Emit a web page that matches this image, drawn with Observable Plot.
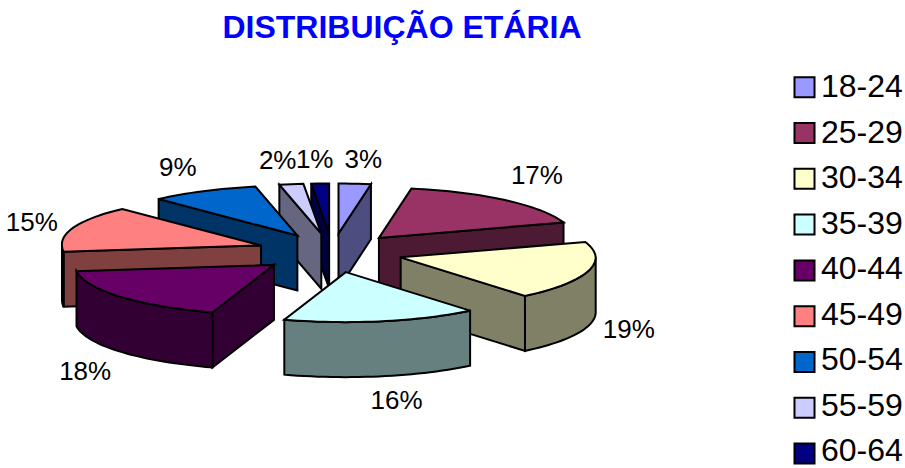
<!DOCTYPE html>
<html>
<head>
<meta charset="utf-8">
<script src="https://cdn.jsdelivr.net/npm/d3@7"></script>
<script src="https://cdn.jsdelivr.net/npm/@observablehq/plot@0.6"></script>
<style>html,body{margin:0;background:#fff}svg{display:block}</style>
</head>
<body>
<div id="chart"></div>
<script>
const chartTitle = "DISTRIBUIÇÃO ETÁRIA";
const ageGroups = ["18-24","25-29","30-34","35-39","40-44","45-49","50-54","55-59","60-64"];
const shares = [2.7,17.3,19,16,18,15,8.7,1.9,1.4];
const swatches = ["#9999FF","#993366","#FFFFCC","#CCFFFF","#660066","#FF8080","#0066CC","#CCCCFF","#000080"];
const paintOrder = ["60-64","18-24","25-29","55-59","50-54","45-49","30-34","40-44","35-39"];

// pie geometry (chart units equal pixels); the picture's perspective is slightly uneven
const W = 905, H = 468;
const pie = {cx:332, cy:251, rxRight:195, rxLeft:199, backRight:-3, backLeft:5, ry:50, explodeRight:71, explodeLeft:76, liftBack:18, liftFront:21, depth:55};
const rad = d => d * Math.PI / 180;
const total = d3.sum(shares);
const cumulative = d3.cumsum(shares);
const slices = ageGroups.map((name,i) => {
  const a0 = (i ? cumulative[i-1] : 0) / total * 360, a1 = cumulative[i] / total * 360, mid = (a0+a1)/2;
  const sm = Math.sin(rad(mid)), cm = Math.cos(rad(mid));
  const ax = pie.cx + (sm < 0 ? pie.explodeLeft : pie.explodeRight)*sm;
  const ay = pie.cy - (cm > 0 ? pie.liftBack : pie.liftFront)*cm;
  const at = a => {
    const sa = Math.sin(rad(a)), ca = Math.cos(rad(a)), back = Math.max(0,ca);
    const rx = sa < 0 ? pie.rxLeft + pie.backLeft*back : pie.rxRight + pie.backRight*back;
    return [ax + rx*sa, ay - pie.ry*ca];
  };
  return {name,i,a0,a1,mid,ax,ay,at,color:swatches[i]};
});
const sampled = (a,b) => { const n = Math.max(1,Math.ceil((b-a)/2)); return d3.range(n+1).map(k => a+(b-a)*k/n); };
const darken = c => { const r = d3.rgb(c); return d3.rgb(r.r*.5,r.g*.5,r.b*.5).formatHex(); };

const rows = [];
const addPoly = (id,tone,pts) => pts.forEach(p => rows.push({id,tone,x:p[0],y:p[1]}));
for (const name of paintOrder) {
  const s = slices[ageGroups.indexOf(name)];
  const side = darken(s.color), d = pie.depth, A = [s.ax,s.ay];
  const wall = (p) => [A,p,[p[0],p[1]+d],[A[0],A[1]+d]];
  if (Math.sin(rad(s.a0)) < 0) addPoly(name+" start",side,wall(s.at(s.a0)));
  if (Math.sin(rad(s.a1)) > 0) addPoly(name+" end",side,wall(s.at(s.a1)));
  const lo = Math.max(s.a0,90), hi = Math.min(s.a1,270);
  if (hi > lo) {
    const arc = sampled(lo,hi).map(s.at);
    addPoly(name+" outer",side,[...arc,...arc.slice().reverse().map(p=>[p[0],p[1]+d])]);
  }
  addPoly(name+" top",s.color,[A,...sampled(s.a0,s.a1).map(s.at)]);
}

// percentage labels follow each slice's rim, then adjacent ones are pushed apart
const labels = slices.map(s => {
  const p = s.at(s.mid), c = Math.cos(rad(s.mid)), sn = Math.sin(rad(s.mid));
  const front = s.mid>90 && s.mid<270 ? pie.depth : 0;
  return {text:d3.format(".0f")(shares[s.i])+"%", x:p[0]+42*Math.sign(sn)*Math.pow(Math.abs(sn),.65),
          y:p[1]+front-24*Math.sign(c)*Math.min(1,c*c/.5)};
});
const labelGap = 37;
for (let i = labels.length-2; i >= 6; i--)
  if (labels[i+1].x - labels[i].x < labelGap) labels[i].x = labels[i+1].x - labelGap;

const legendRows = ageGroups.map((name,i)=>({name,color:swatches[i],y:86.7+45.8*i,textY:86.7+45.5*i}));

const plot = Plot.plot({
  width:W, height:H, margin:0,
  x:{domain:[0,W],range:[0,W],axis:null},
  y:{domain:[0,H],range:[0,H],axis:null},
  color:{type:"identity"},
  style:{fontFamily:"'Liberation Sans',Arial,sans-serif",background:"#fff"},
  marks:[
    Plot.line(rows,{x:"x",y:"y",z:"id",fill:"tone",stroke:"#000",strokeWidth:2,curve:"linear-closed",strokeLinejoin:"miter",strokeMiterlimit:4}),
    Plot.text(labels,{x:"x",y:"y",text:"text",fontSize:26,fill:"#000"}),
    Plot.text([chartTitle],{x:()=>401.5,y:()=>27,text:d=>d,fontSize:32,fontWeight:"bold",fill:"#0000FF"}),
    Plot.dot(legendRows,{x:()=>804,y:"y",symbol:"square",r:11.3,fill:"color",stroke:"#000",strokeWidth:2}),
    Plot.text(legendRows,{x:()=>820.5,y:"textY",text:"name",textAnchor:"start",fontSize:32,fill:"#000"})
  ]
});
document.getElementById("chart").append(plot);
</script>
</body>
</html>
